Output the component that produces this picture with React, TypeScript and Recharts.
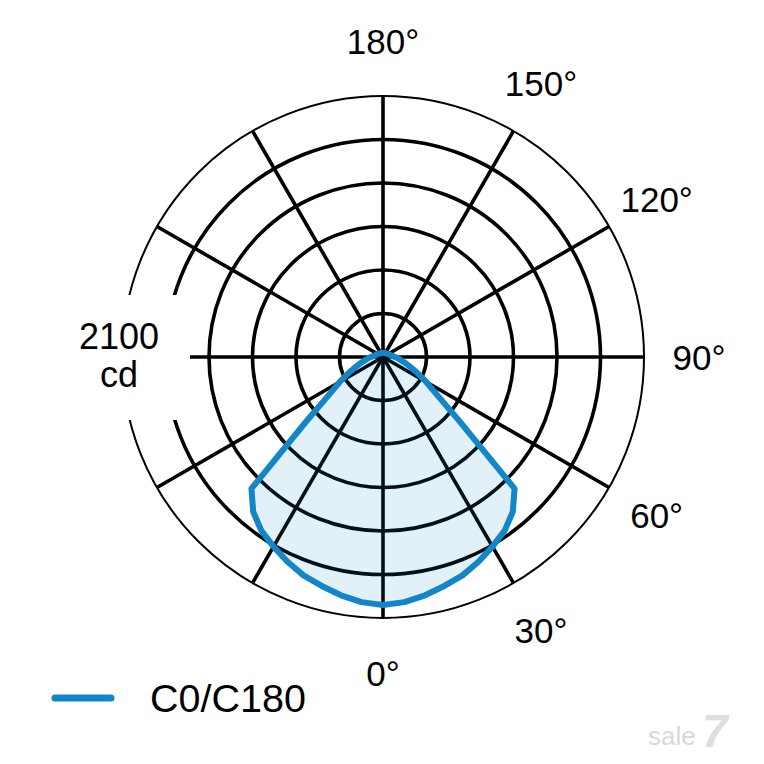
import React from 'react';
import {
  RadarChart,
  Radar,
  PolarGrid,
  PolarAngleAxis,
  PolarRadiusAxis,
  Legend,
  Customized,
} from 'recharts';

// ---- data ----
const C0_ANGLES = [
  0, 5, 10, 15, 20, 25, 30, 35, 40, 45, 50, 55, 60, 65, 70, 75, 80, 85, 90,
  95, 100, 105, 110, 115, 120, 125, 130, 135, 140, 145, 150, 155, 160, 165, 170, 175, 180,
];
const C0_CD = [
  1995, 1980, 1947, 1907, 1870, 1818, 1762, 1706, 1625, 1497, 805, 531, 402, 306, 233, 185, 145, 121, 97,
  80, 70, 62, 56, 52, 48, 45, 42, 40, 38, 37, 36, 35, 34, 33, 33, 32, 32,
];
const C180_ANGLES = [
  0, 5, 10, 15, 20, 25, 30, 35, 40, 45, 50, 55, 60, 65, 70, 75, 80, 85, 90,
  95, 100, 105, 110, 115, 120, 125, 130, 135, 140, 145, 150, 155, 160, 165, 170, 175, 180,
];
const C180_CD = [
  1995, 1980, 1947, 1907, 1870, 1818, 1762, 1706, 1625, 1497, 805, 531, 402, 306, 233, 185, 145, 121, 97,
  80, 70, 62, 56, 52, 48, 45, 42, 40, 38, 37, 36, 35, 34, 33, 33, 32, 32,
];
const LABEL_ANGLES = [0, 30, 60, 90, 120, 150, 180];
const GRID_ANGLES = [0, 30, 60, 90, 120, 150, 180, 210, 240, 270, 300, 330];
const RING_VALUES = [350, 700, 1050, 1400, 1750];
const MAX_CD = 2100;
const UNIT_LINES = ['2100', 'cd'];
const SERIES_NAME = 'C0/C180';

// full-circle table: C0 half on the right, C180 half mirrored on the left
const tableData = [
  ...C0_ANGLES.map((a, i) => ({ angle: a, cd: C0_CD[i] })),
  ...C180_ANGLES.map((a, i) => ({ angle: 360 - a, cd: C180_CD[i] }))
    .filter((d) => d.angle > 180 && d.angle < 360)
    .sort((p, q) => p.angle - q.angle),
];

// ---- layout / style ----
const W = 756;
const H = 748;
const CX = 375;
const CY = 349;
const R = 261;
const FONT = '"Liberation Sans", Arial, Helvetica, sans-serif';
const BLUE = '#1286c6';
const START = -90;
const END = 270;

const ringRadii = RING_VALUES.map((v) => (v / MAX_CD) * R);
const gridAngles = GRID_ANGLES.map((a) => START + a);

const AngleTick = (props: any) => {
  const { x, y, payload } = props;
  if (!LABEL_ANGLES.includes(payload.value)) return <g />;
  return (
    <text
      x={x}
      y={y}
      textAnchor="middle"
      dominantBaseline="central"
      fontSize={35}
      fontFamily={FONT}
      fill="#000"
    >
      {`${payload.value}°`}
    </text>
  );
};

const Watermark = () => (
  <g>
    <text x={640} y={737} fontSize={26} fontFamily={FONT} fill="#d9d9d9">
      sale
    </text>
    <text x={694} y={739} fontSize={46} fontWeight="bold" fontStyle="italic" fontFamily={FONT} fill="#dedede">
      7
    </text>
  </g>
);

const renderLegend = (props: any) => {
  const items = props.payload && props.payload.length ? props.payload : [{ value: SERIES_NAME, color: BLUE }];
  return (
    <div style={{ display: 'flex', alignItems: 'center' }}>
      {items.map((p: any, i: number) => (
        <div key={i} style={{ display: 'flex', alignItems: 'center', height: 42 }}>
          <svg width={64} height={42} style={{ display: 'block' }}>
            <line x1={4} y1={21} x2={60} y2={21} stroke={BLUE} strokeWidth={7} strokeLinecap="round" />
          </svg>
          <span
            style={{
              marginLeft: 35,
              fontSize: 39.5,
              lineHeight: '42px',
              fontFamily: FONT,
              color: '#000',
              whiteSpace: 'nowrap',
            }}
          >
            {p.value}
          </span>
        </div>
      ))}
    </div>
  );
};

export default function App() {
  return (
    <div style={{ width: W, height: H, position: 'relative', background: '#fff' }}>
      <RadarChart
        width={W}
        height={H}
        data={tableData}
        cx={CX}
        cy={CY}
        outerRadius={R}
        startAngle={START}
        endAngle={END}
        margin={{ top: 0, right: 0, bottom: 0, left: 0 }}
      >
        <PolarGrid
          gridType="circle"
          polarRadius={ringRadii}
          polarAngles={gridAngles}
          stroke="#000"
          strokeWidth={3.6}
        />
        <PolarAngleAxis
          dataKey="angle"
          type="number"
          domain={[0, 360]}
          ticks={GRID_ANGLES}
          tickCount={13}
          tick={AngleTick}
          tickLine={false}
          tickSize={55}
          axisLineType="circle"
          axisLine={{ stroke: '#000', strokeWidth: 2 }}
        />
        <PolarRadiusAxis domain={[0, MAX_CD]} type="number" tick={false} axisLine={false} />
        <Radar
          name={SERIES_NAME}
          dataKey="cd"
          stroke={BLUE}
          strokeWidth={6}
          strokeLinejoin="round"
          fill={BLUE}
          fillOpacity={0.12}
          dot={false}
          isAnimationActive={false}
        />
        <Customized component={<Watermark />} />
        <Legend
          content={renderLegend}
          wrapperStyle={{ position: 'absolute', left: 43, top: 669, width: 340, height: 42 }}
        />
      </RadarChart>
      {/* radius scale label sits in a gap cut out of the outer rings */}
      <div
        style={{
          position: 'absolute',
          left: CX - 323,
          top: CY - 62,
          width: 130,
          height: 125,
          background: '#fff',
          pointerEvents: 'none',
        }}
      >
        <div
          style={{
            position: 'absolute',
            left: 9,
            top: 22.5,
            width: 100,
            textAlign: 'center',
            fontFamily: FONT,
            fontSize: 36,
            lineHeight: '38px',
            color: '#000',
          }}
        >
          <div>{UNIT_LINES[0]}</div>
          <div>{UNIT_LINES[1]}</div>
        </div>
      </div>
    </div>
  );
}
